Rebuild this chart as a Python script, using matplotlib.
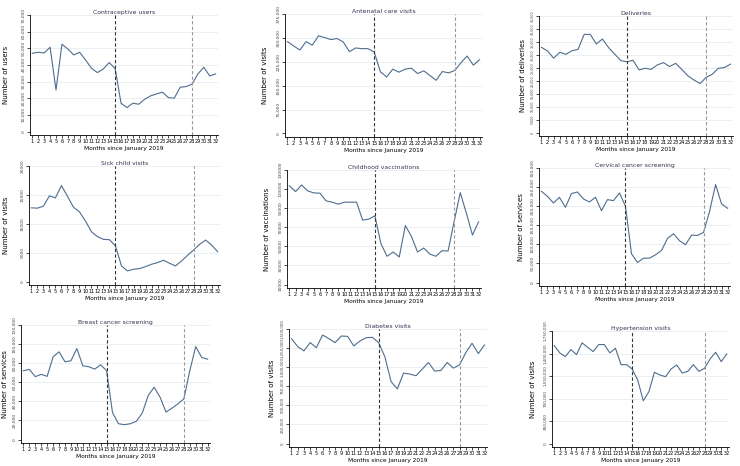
import matplotlib
matplotlib.use("Agg")
import matplotlib.pyplot as plt

# months since January 2019
months = list(range(1, 33))

contraceptive = [47000, 47600, 47200, 50600, 25000, 52400, 49600, 46000, 47600, 43000,
                 38000, 35400, 37600, 41400, 37800, 17000, 14400, 17000, 16400, 19400,
                 21400, 22600, 23600, 20400, 20000, 26600, 27000, 28400, 34600, 38600,
                 33400, 34600]
antenatal = [288400, 274600, 262000, 288400, 276800, 306300, 301000, 294700, 297900, 287300,
             256700, 268300, 266200, 266200, 255600, 193300, 177500, 201800, 192300, 201800,
             204900, 188000, 196500, 181700, 166900, 194400, 190100, 197500, 221800, 242900,
             214400, 231300]
deliveries = [32900, 31500, 28700, 31000, 30200, 31600, 32100, 37900, 37900, 34200,
              36100, 32800, 30300, 27800, 27300, 27900, 24200, 24800, 24400, 26100,
              27000, 25500, 26700, 24400, 21900, 20300, 18900, 21300, 22500, 24800,
              25100, 26400]
sick_child = [12760, 12700, 13050, 14830, 14480, 16610, 14770, 12870, 12070, 10460,
              8620, 7760, 7300, 7240, 6150, 2700, 1840, 2130, 2240, 2590,
              2990, 3280, 3680, 3160, 2700, 3560, 4540, 5460, 6440, 7180,
              6320, 5170]
vaccinations = [113300, 107400, 114300, 108100, 106000, 105700, 97700, 96300, 94200, 96300,
                96300, 96300, 77500, 78500, 82000, 52800, 39600, 44100, 38900, 71900,
                60400, 44100, 48300, 42000, 39600, 45500, 45100, 76100, 106300, 84800,
                61800, 75700]
cervical = [239000, 226000, 208400, 223300, 197000, 232900, 237300, 218900, 211000, 223300,
            188300, 217200, 214500, 234700, 199600, 75300, 52500, 63900, 63900, 72700,
            84100, 115600, 127900, 109500, 99000, 124300, 123500, 131300, 186500, 256600,
            205800, 194400]
breast = [72100, 73500, 65900, 68300, 66200, 86700, 91900, 81500, 82500, 95300,
          77300, 76300, 73800, 78300, 72100, 28100, 16600, 15600, 16600, 19100,
          27700, 46100, 54800, 44400, 28800, 32900, 37400, 42600, 72100, 97400,
          86000, 84200]
diabetes = [1373500, 1269500, 1213200, 1321500, 1256500, 1421100, 1373500, 1321500, 1408100, 1403800,
            1278200, 1343200, 1386500, 1390800, 1321500, 1135200, 810200, 714900, 922900, 909900,
            888200, 974900, 1061500, 948900, 957500, 1061500, 987900, 1031200, 1191500, 1312800,
            1178500, 1291200]
hypertension = [1523800, 1409400, 1352200, 1461400, 1383400, 1565400, 1497800, 1430200, 1539400, 1539400,
                1409400, 1482200, 1227300, 1227300, 1159700, 988100, 665700, 806100, 1107700, 1066100,
                1040100, 1159700, 1222100, 1097300, 1123300, 1227300, 1123300, 1170100, 1315800, 1419800,
                1274200, 1393800]

titles = ["Contraceptive users", "Antenatal care visits", "Deliveries",
          "Sick child visits", "Childhood vaccinations", "Cervical cancer screening",
          "Breast cancer screening", "Diabetes visits", "Hypertension visits"]
ylabels = ["Number of users", "Number of visits", "Number of deliveries",
           "Number of visits", "Number of vaccinations", "Number of services",
           "Number of services", "Number of visits", "Number of visits"]
series = [contraceptive, antenatal, deliveries, sick_child, vaccinations, cervical,
          breast, diabetes, hypertension]
yticks = [list(range(0, 70001, 10000)),
          list(range(0, 375001, 75000)),
          list(range(0, 45001, 5000)),
          list(range(0, 20001, 5000)),
          list(range(10000, 130001, 20000)),
          list(range(0, 300001, 50000)),
          list(range(0, 120001, 20000)),
          list(range(0, 1500001, 250000)),
          list(range(0, 1750001, 350000))]
comma = [True, True, True, False, False, True, True, True, True]
tick_size = [3.2, 3.2, 2.3, 3.2, 3.2, 3.2, 3.2, 2.8, 3.0]

# axes boxes in pixels: left, top, right, bottom; and y label x position
boxes = [(30, 15, 218, 135), (285, 14, 482, 137), (539, 16, 733, 136),
         (29, 166, 220, 285), (287, 170, 481, 288), (539, 168, 730, 286),
         (21, 325, 210, 443), (289, 329, 487, 447), (552, 331, 729, 447)]
ylab_x = [6, 265, 523, 6, 267, 521, 5, 272, 533]

W, H = 740, 466
fig = plt.figure(figsize=(W / 100, H / 100), dpi=100)
line_col = "#4f6d8f"

for i in range(9):
    l, t, r, b = boxes[i]
    ax = fig.add_axes([l / W, 1 - b / H, (r - l) / W, (b - t) / H])
    ax.plot(months, series[i], color=line_col, lw=0.8)
    ax.axvline(15, color="#333333", ls=(0, (3, 2)), lw=0.8)
    ax.axvline(28, color="#999999", ls=(0, (3, 2)), lw=0.8)
    yt = yticks[i]
    span = yt[-1] - yt[0]
    ax.set_ylim(yt[0] - 0.03 * span, yt[-1])
    ax.set_xlim(0.6, 32.4)
    ax.set_yticks(yt)
    if comma[i]:
        ax.set_yticklabels(["{:,}".format(v) for v in yt])
    else:
        ax.set_yticklabels([str(v) for v in yt])
    for v in yt[1:]:
        ax.axhline(v, color="#e6eef0", lw=0.6, zorder=0)
    ax.set_xticks(months)
    ax.set_xticklabels([str(m) for m in months])
    ax.tick_params(axis="x", labelsize=3.6, length=2, width=0.5, pad=1)
    ax.tick_params(axis="y", labelsize=tick_size[i], length=2, width=0.5, pad=1, labelrotation=90)
    for lab in ax.get_yticklabels():
        lab.set_va("center")
        lab.set_color("#444444")
    ax.set_xlabel("Months since January 2019", fontsize=4.2, labelpad=1)
    ax.set_title(titles[i], fontsize=4.4, pad=1, color="#333355")
    ax.spines["top"].set_visible(False)
    ax.spines["right"].set_visible(False)
    ax.spines["left"].set_linewidth(0.6)
    ax.spines["bottom"].set_linewidth(0.6)
    # y axis title placed at the reference position
    fig.text(ylab_x[i] / W, 1 - (t + b) / 2 / H, ylabels[i], rotation=90,
             ha="center", va="center", fontsize=5)

fig.savefig("out.png", dpi=100, facecolor="white")
